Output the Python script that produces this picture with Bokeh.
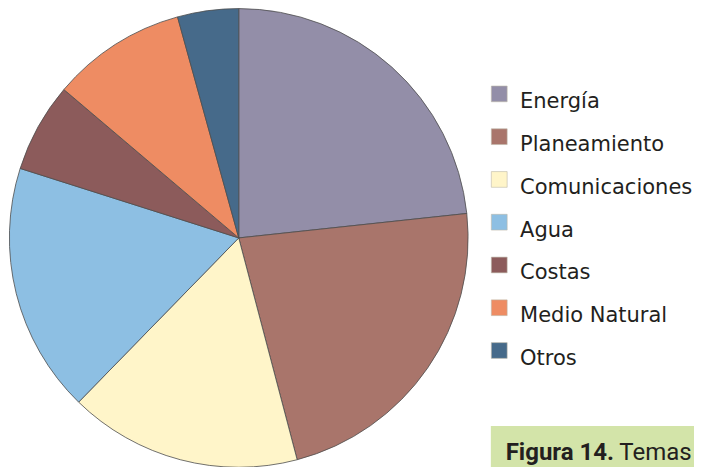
import math
from bokeh.plotting import figure
from bokeh.models import ColumnDataSource, Range1d
from bokeh.core.properties import value
from bokeh.embed import file_html
from bokeh.resources import INLINE

# ---- data ----
categories = ["Energía", "Planeamiento", "Comunicaciones", "Agua", "Costas", "Medio Natural", "Otros"]
shares = [23.3, 22.6, 16.4, 17.6, 6.3, 9.5, 4.3]
colors = ["#938EA8", "#A9756B", "#FFF5C9", "#8DBFE3", "#8C5B5B", "#EE8C63", "#466A8A"]
caption_bold = "Figura 14."
caption_rest = "Temas"

W, H = 694, 467       # figure size in pixels
RW, RH = 702, 475     # layout space (reference pixels)

p = figure(width=W, height=H, output_backend="svg", toolbar_location=None,
           x_range=Range1d(0, RW), y_range=Range1d(0, RH),
           min_border=0, outline_line_color=None)
p.axis.visible = False
p.grid.visible = False
p.background_fill_color = "white"

# ---- pie ----
total = sum(shares)
starts, ends = [], []
cum = 0.0
for s in shares:
    starts.append(math.pi / 2 - cum / total * 2 * math.pi)
    cum += s
    ends.append(math.pi / 2 - cum / total * 2 * math.pi)

src = ColumnDataSource(dict(cat=categories, start=starts, end=ends, color=colors))
cx, cy, r = 241, RH - 241.5, 232
p.wedge(x=cx, y=cy, radius=r, start_angle="start", end_angle="end", direction="clock",
        fill_color="color", line_color="#4d4d4d", line_width=0.8, source=src)

# ---- legend ----
row0 = RH - 95
step = 43.5
ly = [row0 - i * step for i in range(len(categories))]
leg = ColumnDataSource(dict(y=ly, ty=[v - 7.5 for v in ly], cat=categories, color=colors))
p.rect(x=504.5, y="y", width=16, height=16, fill_color="color",
       line_color="#bdb8aa", line_width=0.6, source=leg)
p.text(x=525.5, y="ty", text="cat", text_font=value("DejaVu Sans"),
       text_font_size="21px", text_color="#231F20", text_baseline="alphabetic",
       text_align="left", source=leg)

# ---- caption box ----
p.quad(left=496, right=RW + 2, bottom=-2, top=RH - 432.7, fill_color="#D3E4A9", line_color=None)
cap = ColumnDataSource(dict(x=[511], y=[RH - 459], t=[caption_bold]))
p.text(x="x", y="y", text="t", source=cap,
       text_font=value("Roboto"),
       text_font_style="bold", text_font_size="24px", text_color="#231F20",
       text_baseline="alphabetic", text_align="left")
cap2 = ColumnDataSource(dict(x=[626], y=[RH - 459], t=[caption_rest]))
p.text(x="x", y="y", text="t", source=cap2,
       text_font=value("Roboto"),
       text_font_size="24px", text_color="#231F20",
       text_baseline="alphabetic", text_align="left")

open("out.html", "w").write(file_html(p, INLINE))
